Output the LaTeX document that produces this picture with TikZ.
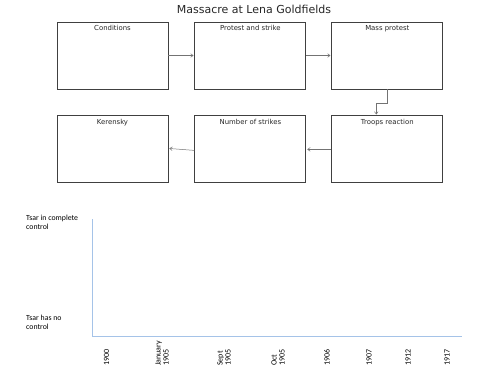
\documentclass[tikz,border=0pt]{standalone}
\usepackage{fontspec}
\setmainfont{DejaVu Sans}
\newfontfamily\chartfont{Carlito}
\usetikzlibrary{positioning,arrows.meta}

\definecolor{axisblue}{RGB}{165,195,232}

\begin{document}
\begin{tikzpicture}[
  x=1pt, y=-1pt,   % pixel grid of the sheet (y grows downwards)
  stage/.style={draw=black!75, line width=0.9pt, minimum width=111pt,
    minimum height=67pt, inner sep=0pt},
  flow/.style={draw=black!55, line width=0.5pt, -{To[length=3pt,width=4pt]}, shorten >=1pt},
  heading/.style={font=\fontsize{6.9}{8}\selectfont, text=black!85, inner sep=0pt, anchor=north, yshift=-4pt},
  level/.style={font=\chartfont\fontsize{7.8}{9}\selectfont, align=left, anchor=north west, inner sep=0pt},
  tick/.style={font=\chartfont\fontsize{8}{8}\selectfont, align=left, rotate=90, anchor=west, inner sep=0pt}
]
\useasboundingbox (0,0) rectangle (500,375);

% ---------------- Title ----------------
\node[font=\fontsize{11}{13}\selectfont, text=black!85] (title) at (254,9.5) {Massacre at Lena Goldfields};

% ---------------- Flow of boxes ----------------
\node[stage, label={[heading]north:Conditions}] (cond) at (112.5,55.5) {};
\node[stage, right=26pt of cond, label={[heading]north:Protest and strike}] (strike) {};
\node[stage, right=25pt of strike, label={[heading]north:Mass protest}] (mass) {};
\node[stage, below=26pt of mass, label={[heading]north:Troops reaction}] (troops) {};
\node[stage, below=26pt of strike, label={[heading]north:Number of strikes}] (number) {};
\node[stage, below=26pt of cond, label={[heading]north:Kerensky}] (keren) {};

\draw[flow] (cond) -- (strike);
\draw[flow] (strike) -- (mass);
\draw[flow] (mass.south) -- ++(0,14) -| ([xshift=-11pt]troops.north);
\draw[flow] (troops) -- (number);
\draw[flow] ([yshift=-1pt]number.west) -- ([yshift=1pt]keren.east);

% ---------------- Control chart ----------------
\coordinate (top) at (92,219);
\coordinate (origin) at (92,336);
\coordinate (end) at (462,336);
\draw[axisblue, line width=0.8pt] (top) -- (origin) -- (end);

\node[level] (high) at (26,214.5) {Tsar in complete\\control};
\node[level] (low) at (26,314.5) {Tsar has no\\control};

% dates along the bottom
\foreach \x/\t in {106.5/1900, 162/{January\\1905}, 224/{Sept\\1905}, 278/{Oct\\1905},
                   327/1906, 369/1907, 408/1912, 447/1917} {
  \node[tick] (d\x) at (\x,366) {\t};
}

\end{tikzpicture}
\end{document}
